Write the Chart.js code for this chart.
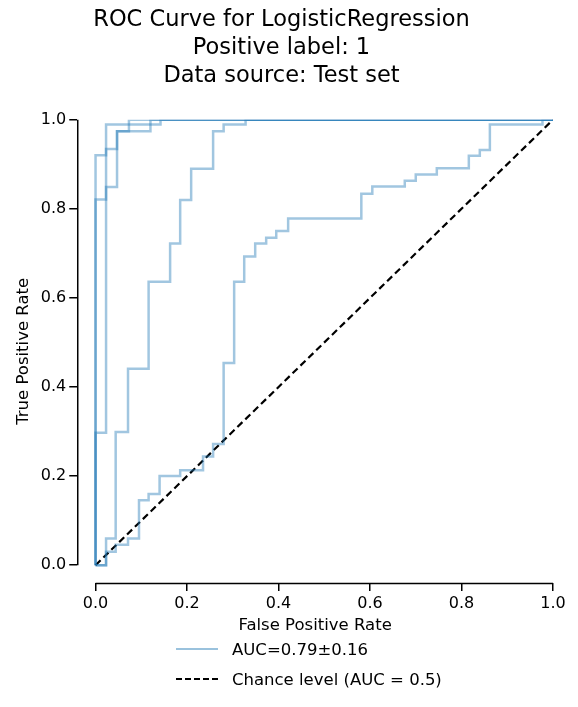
<!DOCTYPE html>
<html><head><meta charset="utf-8">
<script src="https://cdn.jsdelivr.net/npm/chart.js@4"></script>
<style>
body{margin:0;background:#fff;font-family:"DejaVu Sans",sans-serif;}
#wrap{position:relative;width:578px;height:707px;}
#legend{position:absolute;left:176px;top:634px;font-size:16.5px;color:#000;}
.row{display:flex;align-items:center;height:30px;}
.sw{width:42px;height:0;margin-right:14px;}
</style></head><body>
<div id="wrap"><canvas id="c" width="578" height="640" style="width:578px;height:640px"></canvas>
<div id="legend">
<div class="row"><span class="sw" style="border-top:2.5px solid rgba(31,119,180,0.45)"></span>AUC=0.79±0.16</div>
<div class="row"><span class="sw" style="border-top:2.5px dashed #000"></span>Chance level (AUC = 0.5)</div>
</div></div>
<script>
const titleLines = ["ROC Curve for LogisticRegression","Positive label: 1","Data source: Test set"];
const tickValues = [0,0.2,0.4,0.6,0.8,1.0];
const fold1X = [0,0,0.023,0.023,0.047,0.047,0.073,0.073,1];
const fold1Y = [0,0.821,0.821,0.934,0.934,0.974,0.974,1,1];
const fold2X = [0,0,0.023,0.023,0.047,0.047,0.12,0.12,1];
const fold2Y = [0,0.297,0.297,0.849,0.849,0.974,0.974,1,1];
const fold3X = [0,0,0.023,0.023,0.142,0.142,1];
const fold3Y = [0,0.92,0.92,0.989,0.989,1,1];
const fold4X = [0,0.023,0.023,0.044,0.044,0.071,0.071,0.116,0.116,0.163,0.163,0.185,0.185,0.209,0.209,0.257,0.257,0.28,0.28,0.328,0.328,1];
const fold4Y = [0,0,0.06,0.06,0.299,0.299,0.441,0.441,0.636,0.636,0.722,0.722,0.82,0.82,0.89,0.89,0.974,0.974,0.989,0.989,1,1];
const fold5X = [0,0.023,0.023,0.044,0.044,0.071,0.071,0.095,0.095,0.116,0.116,0.14,0.14,0.185,0.185,0.235,0.235,0.257,0.257,0.28,0.28,0.303,0.303,0.325,0.325,0.349,0.349,0.373,0.373,0.395,0.395,0.421,0.421,0.581,0.581,0.605,0.605,0.676,0.676,0.7,0.7,0.746,0.746,0.816,0.816,0.84,0.84,0.862,0.862,0.977,0.977,1];
const fold5Y = [0,0,0.03,0.03,0.046,0.046,0.06,0.06,0.146,0.146,0.16,0.16,0.2,0.2,0.213,0.213,0.244,0.244,0.272,0.272,0.454,0.454,0.636,0.636,0.693,0.693,0.722,0.722,0.735,0.735,0.75,0.75,0.778,0.778,0.834,0.834,0.85,0.85,0.863,0.863,0.877,0.877,0.891,0.891,0.919,0.919,0.932,0.932,0.989,0.989,1,1];
const chanceX = [0,1];
const chanceY = [0,1];

const pts=(xs,ys)=>xs.map((x,i)=>({x:x,y:ys[i]}));
const foldColor='rgba(31,119,180,0.42)';
const folds=[[fold1X,fold1Y],[fold2X,fold2Y],[fold3X,fold3Y],[fold4X,fold4Y],[fold5X,fold5Y]];
const datasets=folds.map((f,i)=>({label:i===0?'AUC=0.79±0.16':'',data:pts(f[0],f[1]),borderColor:foldColor,borderWidth:2.5,pointRadius:0,fill:false,tension:0}));
datasets.push({label:'Chance level (AUC = 0.5)',data:pts(chanceX,chanceY),borderColor:'#000',borderWidth:2.2,borderDash:[7,4],pointRadius:0,fill:false});

const spines={id:'spines',afterDraw(ch){const c=ch.ctx,x=ch.scales.x,y=ch.scales.y;c.save();c.strokeStyle='#000';c.lineWidth=1.5;c.beginPath();
const yb=ch.chartArea.bottom+0.5, xl=ch.chartArea.left+0.5;
c.moveTo(x.getPixelForValue(0),yb);c.lineTo(x.getPixelForValue(1),yb);
c.moveTo(xl,y.getPixelForValue(0));c.lineTo(xl,y.getPixelForValue(1));c.stroke();c.restore();}};
const fixTicks=s=>{s.ticks=tickValues.map(v=>({value:v}));};
const tickFont={family:'DejaVu Sans',size:16};
new Chart(document.getElementById('c'),{type:'line',data:{datasets},plugins:[spines],
options:{responsive:false,animation:false,layout:{padding:{right:25,left:10}},
plugins:{legend:{display:false},title:{display:true,text:titleLines,color:'#000',font:{family:'DejaVu Sans',size:22.5,weight:'normal',lineHeight:1.24},padding:{top:6,bottom:30}}},
scales:{
x:{type:'linear',min:-0.04,max:1,afterBuildTicks:fixTicks,border:{display:false},grid:{drawOnChartArea:false,color:'#000',tickLength:8,lineWidth:1.5},ticks:{color:'#000',font:tickFont,callback:v=>v.toFixed(1)},title:{display:true,text:'False Positive Rate',color:'#000',font:{family:'DejaVu Sans',size:16.5},padding:{top:0}}},
y:{type:'linear',min:-0.04,max:1,afterBuildTicks:fixTicks,border:{display:false},grid:{drawOnChartArea:false,color:'#000',tickLength:8,lineWidth:1.5},ticks:{color:'#000',font:tickFont,callback:v=>v.toFixed(1)},title:{display:true,text:'True Positive Rate',color:'#000',font:{family:'DejaVu Sans',size:16.5},padding:{bottom:4}}}
}}});
</script></body></html>
